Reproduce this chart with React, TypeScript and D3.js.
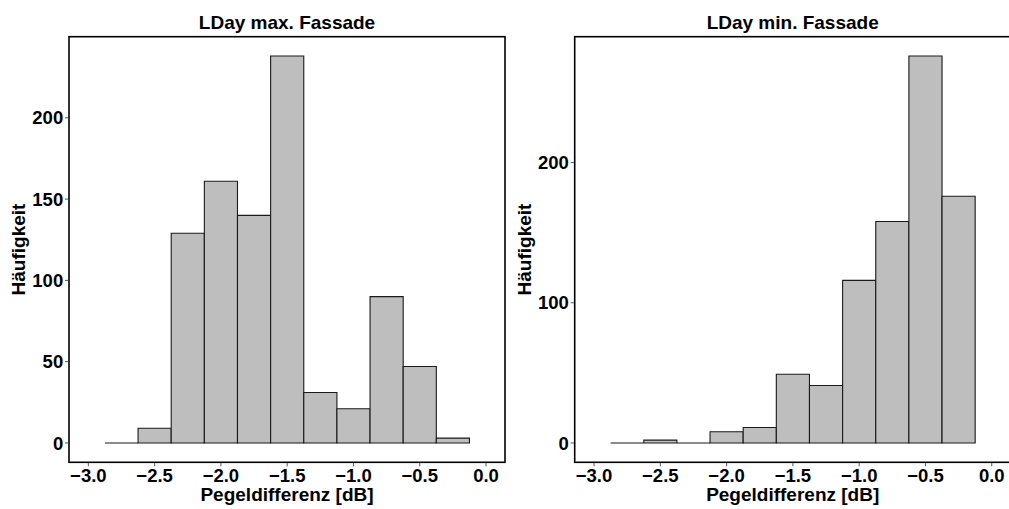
import React from "react";
import * as d3 from "d3";

const binCenters = [-2.75, -2.5, -2.25, -2.0, -1.75, -1.5, -1.25, -1.0, -0.75, -0.5, -0.25];
const binWidth = 0.25;
const maxCounts = [0, 9, 129, 161, 140, 238, 31, 21, 90, 47, 3];
const minCounts = [0, 2, 0, 8, 11, 49, 41, 116, 158, 276, 176];
const xTicks = [-3.0, -2.5, -2.0, -1.5, -1.0, -0.5, 0.0];
const maxYTicks = [0, 50, 100, 150, 200];
const minYTicks = [0, 100, 200];
const titles = ["LDay max. Fassade", "LDay min. Fassade"];
const xTitle = "Pegeldifferenz [dB]";
const yTitle = "Häufigkeit";

const FONT = "'Liberation Sans', Arial, Helvetica, sans-serif";

type PanelProps = {
  ox: number;
  counts: number[];
  yTicks: number[];
  title: string;
};

function Panel({ ox, counts, yTicks, title }: PanelProps) {
  const x0 = 69 + ox;
  const x1 = 505 + ox;
  const y0 = 36.7;
  const y1 = 462.3;
  const x = d3.scaleLinear().domain([-3.146, 0.143]).range([x0, x1]);
  const maxC = d3.max(counts) as number;
  const pad = maxC * 0.05;
  const y = d3.scaleLinear().domain([-pad, maxC + pad]).range([y1, y0]);
  const fmt = d3.format(".1f");
  const cx = (x0 + x1) / 2;
  const cy = (y0 + y1) / 2;
  return (
    <g>
      <text x={cx} y={29.3} textAnchor="middle" fontFamily={FONT} fontWeight="bold" fontSize={19}>
        {title}
      </text>
      {binCenters.map((c, i) => {
        const l = x(c - binWidth / 2);
        const r = x(c + binWidth / 2);
        const t = y(counts[i]);
        const b = y(0);
        const p = d3.path();
        p.moveTo(l, b);
        p.lineTo(l, t);
        p.lineTo(r, t);
        p.lineTo(r, b);
        p.closePath();
        return (
          <path key={i} d={p.toString()} fill="#BEBEBE" stroke="#1a1a1a" strokeWidth={1.1} />
        );
      })}
      <rect x={x0} y={y0} width={x1 - x0} height={y1 - y0} fill="none" stroke="#000" strokeWidth={1.6} />
      {xTicks.map((t) => (
        <g key={t}>
          <line x1={x(t)} x2={x(t)} y1={y1 + 0.8} y2={y1 + 4} stroke="#555" strokeWidth={1} />
          <text x={x(t)} y={481.5} textAnchor="middle" fontFamily={FONT} fontWeight="bold" fontSize={18.5}>
            {fmt(t)}
          </text>
        </g>
      ))}
      {yTicks.map((t) => (
        <g key={t}>
          <line x1={x0 - 4} x2={x0 - 0.8} y1={y(t)} y2={y(t)} stroke="#555" strokeWidth={1} />
          <text x={x0 - 5.8} y={y(t)} dy="0.36em" textAnchor="end" fontFamily={FONT} fontWeight="bold" fontSize={18.5}>
            {t}
          </text>
        </g>
      ))}
      <text x={cx} y={501} textAnchor="middle" fontFamily={FONT} fontWeight="bold" fontSize={19}>
        {xTitle}
      </text>
      <text
        transform={`translate(${25 + ox},${cy}) rotate(-90)`}
        textAnchor="middle"
        fontFamily={FONT}
        fontWeight="bold"
        fontSize={19}
      >
        {yTitle}
      </text>
    </g>
  );
}

export default function App() {
  return (
    <svg
      width={1009}
      height={509}
      viewBox="0 0 1009 509"
      style={{ position: "absolute", left: 0, top: 0, background: "#fff" }}
    >
      <rect x={0} y={0} width={1009} height={509} fill="#fff" />
      <Panel ox={0} counts={maxCounts} yTicks={maxYTicks} title={titles[0]} />
      <Panel ox={505.7} counts={minCounts} yTicks={minYTicks} title={titles[1]} />
    </svg>
  );
}
